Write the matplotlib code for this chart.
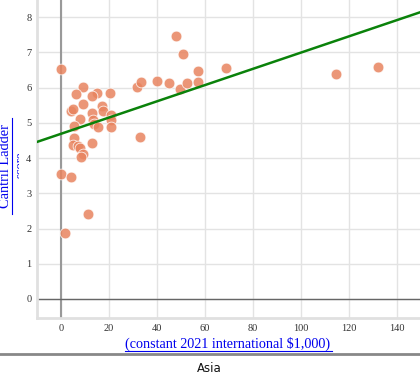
import matplotlib
matplotlib.use("Agg")
import matplotlib.pyplot as plt
from matplotlib.transforms import Bbox

# GDP per capita (thousand $) and Cantril Ladder score, Asia
gdp = [0, 9.3, 6.1, 15.1, 12.8, 20.6, 4.2, 4.9, 9.3, 17.0, 17.6, 13.0, 8.0, 5.5,
       13.5, 13.8, 15.5, 21.0, 21.0, 20.8, 5.3, 5.1, 7.2, 7.9, 13.0, 9.3, 8.3,
       0, 4.3, 11.2, 1.7, 33.0, 31.8, 33.5, 40.1, 45.0, 47.9, 50.7, 49.6, 52.6,
       57.1, 57.2, 68.6, 114.4, 132.0]
score = [6.53, 6.01, 5.83, 5.85, 5.77, 5.84, 5.35, 5.39, 5.53, 5.48, 5.34, 5.29,
         5.12, 4.91, 5.09, 4.96, 4.89, 5.22, 5.09, 4.89, 4.56, 4.37, 4.35, 4.28,
         4.44, 4.12, 4.03, 3.56, 3.47, 2.40, 1.87, 4.61, 6.01, 6.15, 6.20, 6.13,
         7.48, 6.96, 5.97, 6.14, 6.47, 6.17, 6.57, 6.38, 6.59]
trend_x = [-10, 150]
trend_y = [4.46, 8.15]
xticks = [0, 20, 40, 60, 80, 100, 120, 140]
yticks = [0, 1, 2, 3, 4, 5, 6, 7, 8]

W, H = 420, 375
fig = plt.figure(figsize=(W / 100, H / 100), dpi=100)
ax = fig.add_axes([37 / W, (H - 318) / H, (W - 37) / W, 318 / H])
ax.set_xlim(-10, 149.6)
ax.set_ylim(-0.54, 8.49)

ax.set_xticks(xticks)
ax.set_yticks(yticks)
ax.grid(True, color="#e3e3e3", linewidth=1)
ax.set_axisbelow(True)
ax.tick_params(axis="x", length=0, labelsize=7.5, colors="#333333", pad=4)
ax.tick_params(axis="y", length=0, labelsize=7.5, colors="#333333", pad=4)
for lab in ax.get_xticklabels() + ax.get_yticklabels():
    lab.set_family("Liberation Serif")

for s in ["top", "right"]:
    ax.spines[s].set_visible(False)
for s in ["left", "bottom"]:
    ax.spines[s].set_color("#e0e0e0")
    ax.spines[s].set_linewidth(2)

ax.axvline(0, color="#999999", linewidth=1.5, zorder=1)
ax.axhline(0, color="#666666", linewidth=1, zorder=1)

ax.scatter(gdp, score, s=60, color="#e8845f", alpha=0.85,
           edgecolors="white", linewidths=0.6, zorder=3)
ax.plot(trend_x, trend_y, color="#0a820a", linewidth=1.8, zorder=4)

# axis titles (blue underlined link style)
fig.text(228 / W, 1 - 344 / H, "(constant 2021 international $1,000)",
         ha="center", va="center", fontsize=10.2, color="#0000ee",
         family="Liberation Serif")
fig.add_artist(plt.Line2D([125 / W, 332 / W], [1 - 351 / H, 1 - 351 / H],
                          color="#0000ee", linewidth=0.8))
fig.text(5.5 / W, 1 - 166 / H, "Cantril Ladder", rotation=90,
         ha="center", va="center", fontsize=10.4, color="#0000ee",
         family="Liberation Serif")
fig.add_artist(plt.Line2D([12 / W, 12 / W], [1 - 214 / H, 1 - 118 / H],
                          color="#0000ee", linewidth=0.8))
t2 = fig.text(21 / W, 1 - 165 / H, "score", rotation=90,
              ha="center", va="center", fontsize=9, color="#0000ee",
              family="Liberation Serif")
t2.set_clip_box(Bbox.from_extents(0, 0, 19, H))
t2.set_clip_on(True)

# separator and facet label
fig.add_artist(plt.Line2D([0, 1], [1 - 354 / H, 1 - 354 / H],
                          color="#888888", linewidth=2))
fig.text(209 / W, 1 - 368 / H, "Asia", ha="center", va="center",
         fontsize=8.5, color="#111111", family="DejaVu Sans")

fig.savefig("out.png", dpi=100)
